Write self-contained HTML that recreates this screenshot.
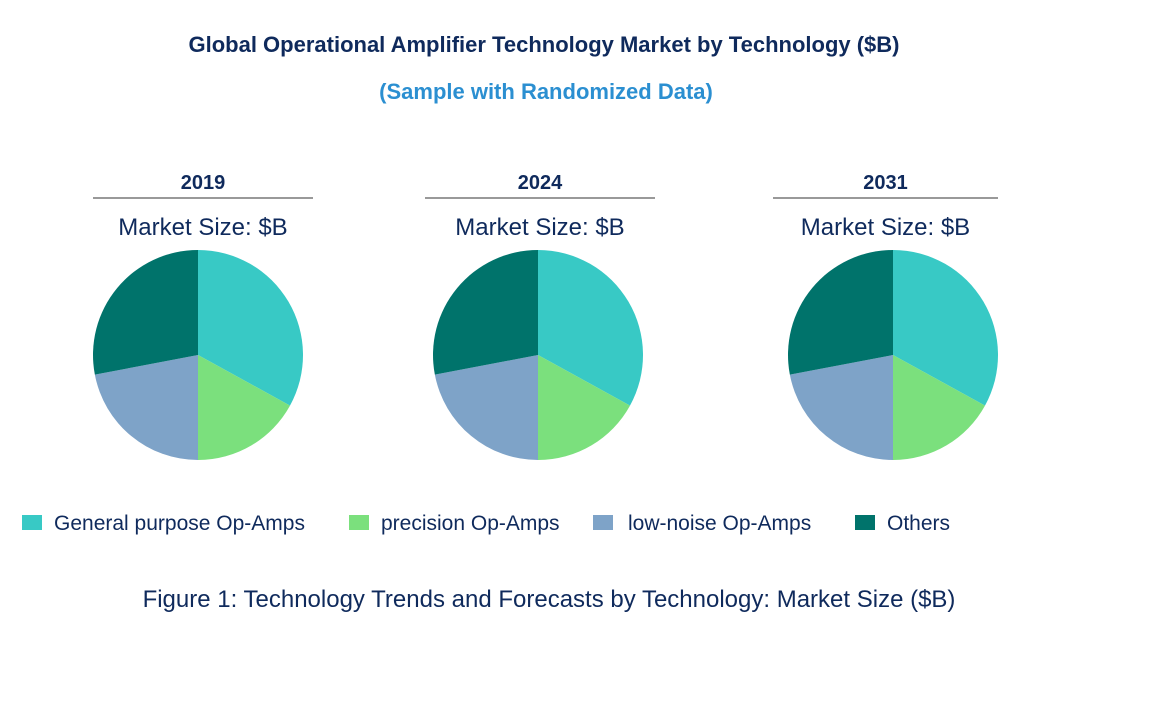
<!DOCTYPE html>
<html><head><meta charset="utf-8"><style>
body{margin:0;background:#fff;width:1170px;height:711px;overflow:hidden;font-family:"Liberation Sans",Arial,sans-serif;}
svg text{font-family:"Liberation Sans",Arial,sans-serif;}
</style></head><body>
<svg id="chart" width="1170" height="711">
<text x="544" y="52" text-anchor="middle" font-size="22" font-weight="bold" fill="#0f2a5c">Global Operational Amplifier Technology Market by Technology ($B)</text>
<text x="546" y="99" text-anchor="middle" font-size="22" font-weight="bold" fill="#2b8fd1">(Sample with Randomized Data)</text>
<g id="pies"></g>
<g id="legend"></g>
<text x="549" y="607" text-anchor="middle" font-size="24" fill="#0f2a5c">Figure 1: Technology Trends and Forecasts by Technology: Market Size ($B)</text>
</svg>
<script>
const years=["2019","2024","2031"];
const categories=["General purpose Op-Amps","precision Op-Amps","low-noise Op-Amps","Others"];
const values2019=[33,17,22,28];
const values2024=[33,17,22,28];
const values2031=[33,17,22,28];
const allValues=[values2019,values2024,values2031];
const colors=["#38c9c5","#7be07d","#7ea3c8","#00736b"];
const centers=[198,538,893];
const lineSpans=[[93,313],[425,655],[773,998]];
const NS="http://www.w3.org/2000/svg";
const pies=document.getElementById("pies");
function mk(t,a){const e=document.createElementNS(NS,t);for(const k in a)e.setAttribute(k,a[k]);return e;}
years.forEach((y,i)=>{
  const cx=centers[i],cy=355,r=105;
  const g=mk("g",{});
  
  
  const yt=mk("text",{x:(lineSpans[i][0]+lineSpans[i][1])/2,y:189,"text-anchor":"middle","font-size":20,"font-weight":"bold",fill:"#0f2a5c"});
  yt.textContent=y;
  
  
  g.appendChild(yt);
  const ln=mk("line",{x1:lineSpans[i][0],x2:lineSpans[i][1],y1:198,y2:198,stroke:"#333","stroke-width":1});
  
  
  g.appendChild(ln);
  const ms=mk("text",{x:(lineSpans[i][0]+lineSpans[i][1])/2,y:235,"text-anchor":"middle","font-size":24,fill:"#0f2a5c"});
  ms.textContent="Market Size: $B";
  
  
  g.appendChild(ms);
  const vals=allValues[i];const tot=vals.reduce((a,b)=>a+b,0);
  let a0=0;
  vals.forEach((v,j)=>{
    const a1=a0+v/tot*2*Math.PI;
    const x0=cx+r*Math.sin(a0),y0=cy-r*Math.cos(a0),x1=cx+r*Math.sin(a1),y1=cy-r*Math.cos(a1);
    const p=mk("path",{d:`M${cx},${cy}L${x0},${y0}A${r},${r} 0 ${a1-a0>Math.PI?1:0} 1 ${x1},${y1}Z`,fill:colors[j]});
    
    
    g.appendChild(p);
    a0=a1;
  });
  pies.appendChild(g);
});
const leg=document.getElementById("legend");
const lx=[22,349,593,855];
categories.forEach((c,j)=>{
  const g=mk("g",{});
  
  
  const s=mk("rect",{x:lx[j],y:515,width:20,height:15,fill:colors[j]});
  
  
  g.appendChild(s);
  const t=mk("text",{x:lx[j]+(j==2?35:32),y:530,"font-size":21,fill:"#0f2a5c"});
  t.textContent=c;
  
  
  g.appendChild(t);
  leg.appendChild(g);
});
</script>
</body></html>
